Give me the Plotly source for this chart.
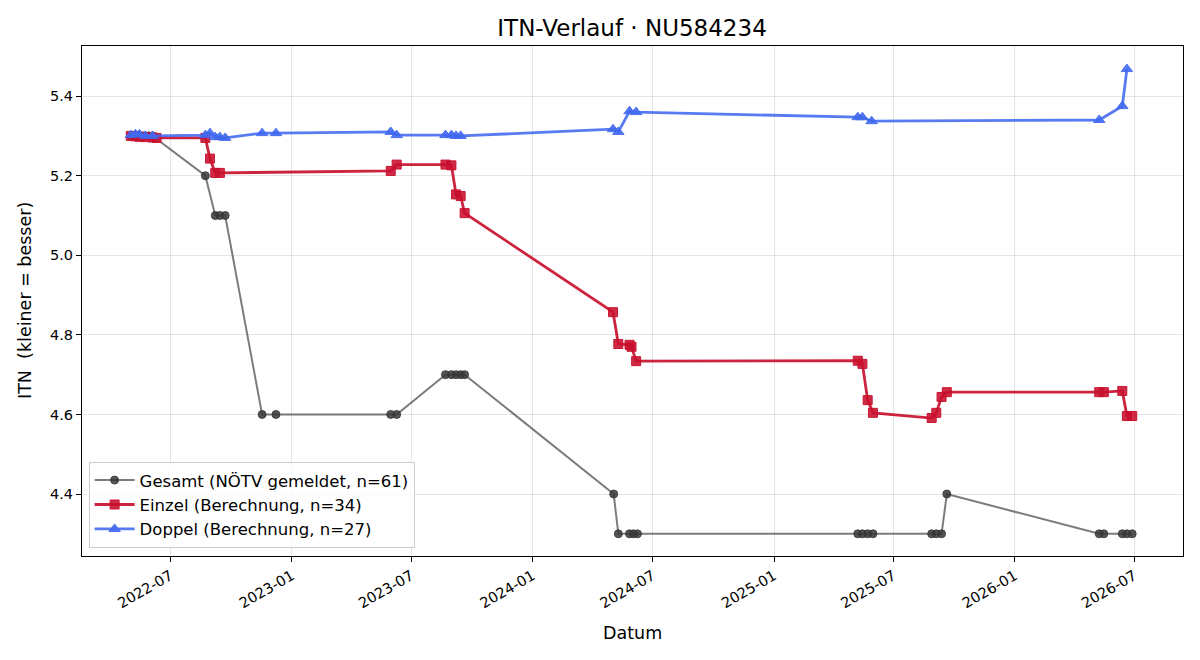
import plotly.graph_objects as go

# Gesamt (NÖTV gemeldet)
gesamt_dates = ["2022-05-02", "2022-05-09", "2022-05-15", "2022-05-20", "2022-05-24", "2022-05-29", "2022-06-04",
                "2022-08-23", "2022-09-07", "2022-09-14", "2022-09-22",
                "2022-11-17", "2022-12-08",
                "2023-05-31", "2023-06-09",
                "2023-08-22", "2023-08-31", "2023-09-07", "2023-09-14", "2023-09-20",
                "2024-05-03", "2024-05-10", "2024-05-27", "2024-06-02", "2024-06-08",
                "2025-05-08", "2025-05-15", "2025-05-23", "2025-05-31",
                "2025-08-28", "2025-09-04", "2025-09-12", "2025-09-20",
                "2026-05-09", "2026-05-16", "2026-06-13", "2026-06-20", "2026-06-28"]
gesamt_vals = [5.3, 5.3, 5.3, 5.3, 5.3, 5.3, 5.3,
               5.2, 5.1, 5.1, 5.1,
               4.6, 4.6,
               4.6, 4.6,
               4.7, 4.7, 4.7, 4.7, 4.7,
               4.4, 4.3, 4.3, 4.3, 4.3,
               4.3, 4.3, 4.3, 4.3,
               4.3, 4.3, 4.3, 4.4,
               4.3, 4.3, 4.3, 4.3, 4.3]

# Einzel (Berechnung)
einzel_dates = ["2022-05-02", "2022-05-09", "2022-05-15", "2022-05-24", "2022-06-04", "2022-06-10",
                "2022-08-23", "2022-08-30", "2022-09-07", "2022-09-14",
                "2023-05-31", "2023-06-09",
                "2023-08-22", "2023-08-31", "2023-09-07", "2023-09-14", "2023-09-20",
                "2024-05-02", "2024-05-10", "2024-05-27", "2024-05-30", "2024-06-06",
                "2025-05-08", "2025-05-15", "2025-05-23", "2025-05-31",
                "2025-08-28", "2025-09-04", "2025-09-12", "2025-09-20",
                "2026-05-09", "2026-05-16", "2026-06-13", "2026-06-20", "2026-06-28"]
einzel_vals = [5.300, 5.299, 5.298, 5.297, 5.296, 5.295,
               5.295, 5.243, 5.207, 5.207,
               5.212, 5.228,
               5.228, 5.226, 5.153, 5.149, 5.106,
               4.857, 4.777, 4.775, 4.770, 4.734,
               4.735, 4.727, 4.636, 4.604,
               4.591, 4.604, 4.644, 4.656,
               4.656, 4.656, 4.659, 4.596, 4.596]

# Doppel (Berechnung)
doppel_dates = ["2022-05-02", "2022-05-09", "2022-05-15", "2022-05-24", "2022-06-04",
                "2022-08-23", "2022-08-30", "2022-09-07", "2022-09-14", "2022-09-22",
                "2022-11-17", "2022-12-08",
                "2023-05-31", "2023-06-09",
                "2023-08-22", "2023-08-31", "2023-09-07", "2023-09-14",
                "2024-05-02", "2024-05-10",
                "2024-05-27", "2024-06-06",
                "2025-05-08", "2025-05-15", "2025-05-29",
                "2026-05-09", "2026-06-13", "2026-06-20"]
doppel_vals = [5.302, 5.304, 5.304, 5.300, 5.300,
               5.302, 5.307, 5.297, 5.297, 5.295,
               5.307, 5.307,
               5.310, 5.302,
               5.302, 5.302, 5.300, 5.300,
               5.317, 5.310,
               5.362, 5.360,
               5.347, 5.347, 5.337,
               5.340, 5.375, 5.468]

y_ticks = [4.4, 4.6, 4.8, 5.0, 5.2, 5.4]

FONT = "DejaVu Sans"

fig = go.Figure()
fig.add_trace(go.Scatter(
    x=gesamt_dates, y=gesamt_vals, mode="lines+markers",
    name="Gesamt (NÖTV gemeldet, n=61)",
    line=dict(color="rgba(68,68,68,0.7)", width=2),
    marker=dict(symbol="circle", size=8, color="rgba(55,55,55,0.85)",
                line=dict(color="rgba(55,55,55,0.85)", width=1)),
))
fig.add_trace(go.Scatter(
    x=einzel_dates, y=einzel_vals, mode="lines+markers",
    name="Einzel (Berechnung, n=34)",
    line=dict(color="rgba(200,16,46,0.92)", width=2.8),
    marker=dict(symbol="square", size=9, color="rgba(200,16,46,0.88)",
                line=dict(color="rgba(200,16,46,0.95)", width=1)),
))
fig.add_trace(go.Scatter(
    x=doppel_dates, y=doppel_vals, mode="lines+markers",
    name="Doppel (Berechnung, n=27)",
    line=dict(color="rgba(65,105,240,0.88)", width=2.8),
    marker=dict(symbol="triangle-up", size=10, color="rgba(65,105,240,0.9)",
                line=dict(color="rgba(65,105,240,0.9)", width=1)),
))

fig.update_layout(
    width=1200, height=660,
    margin=dict(l=82, r=17, t=46, b=104),
    paper_bgcolor="white", plot_bgcolor="white",
    font=dict(family=FONT, size=14, color="black"),
    title=dict(text="ITN-Verlauf · NU584234", x=0.5267, xanchor="center",
               y=1 - 28 / 660, yanchor="middle", yref="container",
               font=dict(size=23, family=FONT, color="black")),
    showlegend=True,
    legend=dict(x=0.006, y=0.016, xanchor="left", yanchor="bottom",
                bgcolor="rgba(255,255,255,0.8)", bordercolor="#cccccc", borderwidth=1,
                font=dict(size=16.5, family=FONT), tracegroupgap=0, itemwidth=40),
    xaxis=dict(
        type="date", range=["2022-02-17", "2026-09-13"],
        tickformat="%Y-%m", dtick="M6", tick0="2022-07-01",
        tickangle=-30, ticks="outside", ticklen=5, tickcolor="black",
        showgrid=True, gridcolor="rgba(0,0,0,0.1)", gridwidth=1,
        showline=True, linecolor="black", linewidth=1, mirror=True,
        zeroline=False, tickfont=dict(size=14.5, family=FONT),
    ),
    yaxis=dict(
        range=[4.2442, 5.526], tickvals=y_ticks, tickformat=".1f",
        ticks="outside", ticklen=5, tickcolor="black",
        showgrid=True, gridcolor="rgba(0,0,0,0.1)", gridwidth=1,
        showline=True, linecolor="black", linewidth=1, mirror=True,
        zeroline=False, tickfont=dict(size=14.5, family=FONT),
    ),
    annotations=[
        dict(text="Datum", xref="paper", yref="paper", x=0.5, y=-(633 - 556) / 510,
             showarrow=False, xanchor="center", yanchor="middle",
             font=dict(size=17.5, family=FONT)),
        dict(text="ITN\u00a0\u00a0(kleiner = besser)", xref="paper", yref="paper",
             x=(25 - 82) / 1101, y=0.5, textangle=-90, showarrow=False,
             xanchor="center", yanchor="middle", font=dict(size=17.5, family=FONT)),
    ],
)

fig.write_html("out.html")
